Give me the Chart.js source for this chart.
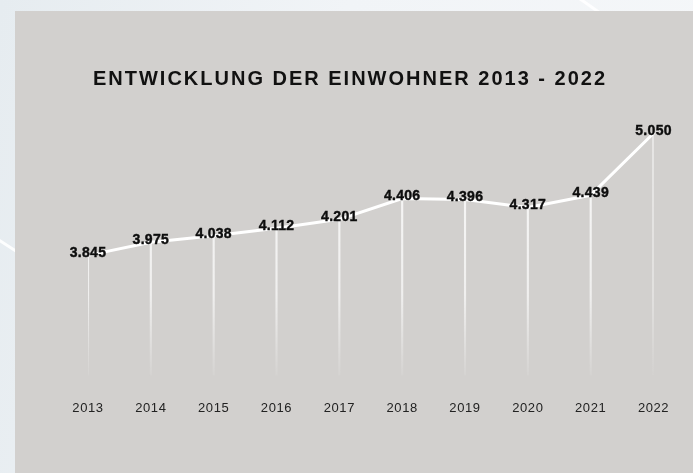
<!DOCTYPE html>
<html lang="de">
<head>
<meta charset="utf-8">
<script src="https://cdn.jsdelivr.net/npm/chart.js@4/dist/chart.umd.min.js"></script>
<style>
  html, body { margin: 0; padding: 0; }
  body {
    width: 693px; height: 473px; overflow: hidden; position: relative;
    background: linear-gradient(100deg, #e6ecf0 0%, #f1f4f7 45%, #f5f7f9 100%);
  }
  .streak {
    position: absolute; height: 3px; background: rgba(255,255,255,0.9);
    transform-origin: 0 50%;
  }
  #panel {
    position: absolute; left: 15px; top: 11px; right: 0; bottom: 0;
    background: #d2d0ce;
  }
  #wrap { position: absolute; left: 0; top: 0; width: 693px; height: 473px; }
</style>
</head>
<body>
<div class="streak" style="left:-5px; top:236px; width:40px; transform:rotate(33deg);"></div>
<div class="streak" style="left:578px; top:-4px; width:40px; transform:rotate(35deg);"></div>
<div id="panel"></div>
<div id="wrap"><canvas id="chartEinwohner" width="693" height="473"></canvas></div>
<script>
  // Einwohner je Jahr
  const jahre = ["2013", "2014", "2015", "2016", "2017", "2018", "2019", "2020", "2021", "2022"];
  const einwohner = [3845, 3975, 4038, 4112, 4201, 4406, 4396, 4317, 4439, 5050];
  const titel = "ENTWICKLUNG DER EINWOHNER 2013 - 2022";

  // 3845 -> "3.845"
  function formatDE(n) {
    return String(n).replace(/\B(?=(\d{3})+(?!\d))/g, ".");
  }

  // Zeichenabstand pro Ebene (Titel / Werte / Achse)
  const spacingPlugin = {
    id: "spacing",
    beforeDraw(chart) { chart.ctx.letterSpacing = "2px"; },
    beforeDatasetsDraw(chart) { chart.ctx.letterSpacing = "0px"; },
    afterDatasetsDraw(chart) {
      const ctx = chart.ctx;
      const meta = chart.getDatasetMeta(0);
      ctx.save();
      ctx.letterSpacing = "0.3px";
      ctx.font = "bold 14px 'Liberation Sans', Arial, sans-serif";
      ctx.fillStyle = "#0d0d0d";
      ctx.strokeStyle = "#0d0d0d";
      ctx.lineWidth = 0.4;
      ctx.textAlign = "center";
      ctx.textBaseline = "middle";
      meta.data.forEach((pt, i) => {
        const txt = formatDE(einwohner[i]);
        ctx.fillText(txt, pt.x, pt.y - 2);
        ctx.strokeText(txt, pt.x, pt.y - 2);
      });
      ctx.restore();
      ctx.letterSpacing = "0.6px";
    },
    afterDraw(chart) { chart.ctx.letterSpacing = "0px"; }
  };

  const canvas = document.getElementById("chartEinwohner");

  new Chart(canvas, {
    type: "line",
    data: {
      labels: jahre,
      datasets: [{
        type: "line",
        data: einwohner,
        borderColor: "#ffffff",
        borderWidth: 3,
        tension: 0,
        pointRadius: 0,
        borderCapStyle: "round",
        borderJoinStyle: "round",
        order: 0
      }, {
        type: "bar",
        data: einwohner,
        barThickness: 1.5,
        order: 1,
        backgroundColor(ctx) {
          const area = ctx.chart.chartArea;
          if (!area) return "rgba(255,255,255,0.7)";
          const g = ctx.chart.ctx.createLinearGradient(0, area.top, 0, area.bottom);
          g.addColorStop(0, "rgba(255,255,255,0.9)");
          g.addColorStop(0.7, "rgba(255,255,255,0.65)");
          g.addColorStop(1, "rgba(255,255,255,0.08)");
          return g;
        }
      }]
    },
    options: {
      responsive: false,
      animation: false,
      devicePixelRatio: 1,
      layout: { padding: { left: 36, right: 29, top: 57, bottom: 32 } },
      plugins: {
        legend: { display: false },
        tooltip: { enabled: false },
        title: {
          display: true,
          text: titel,
          color: "#111",
          font: { family: "'Liberation Sans', Arial, sans-serif", size: 20, weight: "bold" },
          padding: { top: 10, bottom: 19 }
        }
      },
      scales: {
        x: {
          offset: false,
          grid: { display: false, drawTicks: false },
          border: { display: false },
          ticks: {
            z: 1,
            padding: 25,
            maxRotation: 0,
            color: "#222",
            font: { family: "'Liberation Sans', Arial, sans-serif", size: 13 }
          }
        },
        y: {
          display: true,
          min: 2660,
          max: 5280,
          grid: { display: false, drawTicks: false },
          border: { display: false },
          ticks: { display: false },
          afterFit(scale) { scale.width = 52; }
        }
      }
    },
    plugins: [spacingPlugin]
  });
</script>
</body>
</html>
